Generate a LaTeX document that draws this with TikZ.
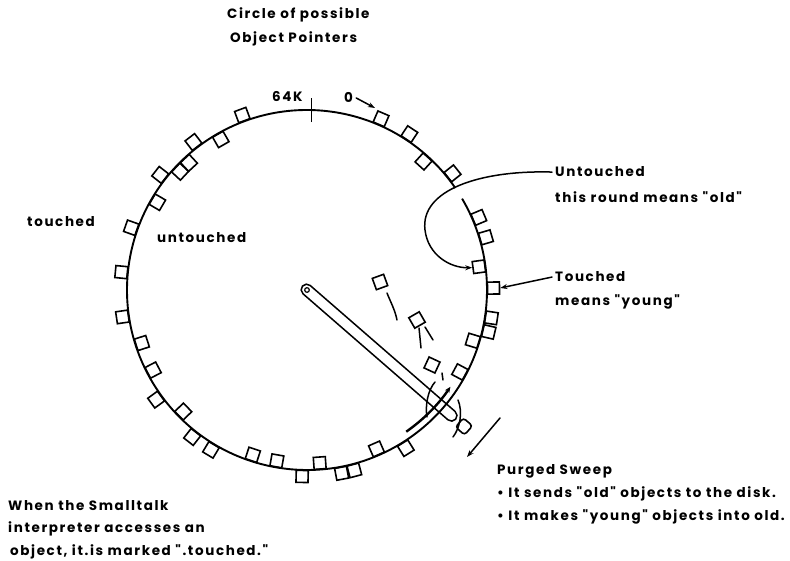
\documentclass[tikz,border=0pt]{standalone}
\usepackage{fontspec}
\setmainfont{Poppins}[LetterSpace=12, Ligatures=TeXOff]
\newcommand{\qq}{"}
\usetikzlibrary{calc,arrows.meta}
\begin{document}
\begin{tikzpicture}[x=1pt,y=1pt,
  lbl/.style={font=\fontsize{13.5}{15}\selectfont\bfseries, inner sep=0pt, anchor=base west},
  sqr/.style={draw, line width=1.6pt, minimum size=12pt, inner sep=0pt, rectangle},
  ln/.style={line width=1.5pt, line cap=round},
  tip/.style={-{Stealth[length=7pt,width=5pt]}}
]
\fill[white] (0,0) rectangle (790,560);
\useasboundingbox (0,0) rectangle (790,560);
\coordinate (C) at (307,270);
% main circle (with a gap where the leader passes)
\draw[line width=1.9pt] ([shift={(34.5:180)}]C) arc[start angle=34.5, end angle=390.5, radius=180];
% 64K tick
\coordinate (tk) at ([shift={(88.5:180)}]C);
\draw[line width=1.5pt] ([yshift=-12pt]tk) -- ([yshift=12pt]tk);
% outside (touched) squares
\foreach \a [count=\i] in {110.3,127.5,141.9,160.5,174.5,188.3,216,232,239,268.5,280.7,284.7,302,347,351.4,16.4,22.9,38.7,56.7,66.6}
  \node[sqr, rotate=\a] (o\i) at ([shift={(\a:186.5)}]C) {};
% inside (untouched) squares
\foreach \a [count=\i] in {119.8,132.9,137,149.6,197.8,207.5,224.5,251.8,260,274.2,293.6,331.8,343,47.8}
  \node[sqr, rotate=\a] (u\i) at ([shift={(\a:173.5)}]C) {};
\node[sqr, rotate=7.7] (old) at ([shift={(7.7:173.5)}]C) {};
\node[sqr, rotate=0.6] (young) at ([shift={(0.6:186.5)}]C) {};
% moving squares inside the circle
\node[sqr, rotate=20] (m1) at (380,278) {};
\node[sqr, rotate=30] (m2) at (417,240) {};
\node[sqr, rotate=-25] (m3) at (432,195) {};
\draw[ln] (387,267) .. controls (391,257) and (395,250) .. (397,240);
\draw[ln] (425,233) -- (433,220);
\draw[ln] (419,232) -- (421,212);
\draw[ln] (442,187) -- (443,180);
% sweep arm
\begin{scope}[shift={(C)}, rotate=-41]
  \draw[line width=1.5pt, rounded corners=5.5pt] (-6,-5.5) rectangle (197,5.5);
  \draw[line width=1.2pt] (0,0) circle (2.3);
  \node[sqr, rounded corners=3pt, rotate=-41] (gone) at (208,0) {};
\end{scope}
% sweep motion marks
\draw[line width=2.4pt, -{Stealth[length=6pt,width=5pt]}] ([shift={(305:173)}]C) arc[start angle=305, end angle=326, radius=173];
\draw[ln] (435,178) .. controls (428,170) and (425,155) .. (427,143);
\draw[ln] (458,160) .. controls (463,148) and (460,132) .. (453,123);
% texts
\node[lbl] (t1) at (227,541) {Circle of possible};
\node[lbl] (t2) at (230,517) {Object Pointers};
\node[lbl] (k64) at (272,458) {64K};
\node[lbl] (zero) at (344,457) {0};
\coordinate (zeroend) at (375,452);
\draw[ln, tip] ([xshift=3pt]zero.east) -- (zeroend);
\node[lbl] (tch) at (27,333) {touched};
\node[lbl] (utch) at (157,317) {untouched};
\node[lbl] (lab1) at (555,383) {Untouched};
\node[lbl] (lab2) at (555,357) {this round means \qq old\qq};
\node[lbl] (lab3) at (555,278) {Touched};
\node[lbl] (lab4) at (555,254) {means \qq young\qq};
\draw[ln, tip] ([xshift=-3pt]lab1.west) .. controls (480,390) and (420,370) .. (425,330)
  .. controls (428,305) and (450,292) .. (old.west);
\draw[ln, tip] ([xshift=-3pt]lab3.west) -- (young.east);
\node[lbl] (p1) at (497,85) {Purged Sweep};
\node[lbl] (p2) at (497,63) {• It sends \qq old\qq\ objects to the disk.};
\node[lbl] (p3) at (497,40) {• It makes \qq young\qq\ objects into old.};
\coordinate (sw1) at (500,142);
\coordinate (sw2) at (467,103);
\draw[ln, tip] (sw1) -- (sw2);
\node[lbl] (w1) at (8,50) {When the Smalltalk};
\node[lbl] (w2) at (8,28) {interpreter accesses an};
\node[lbl] (w3) at (10,5) {object, it.is marked \qq.touched.\qq};
\end{tikzpicture}
\end{document}
